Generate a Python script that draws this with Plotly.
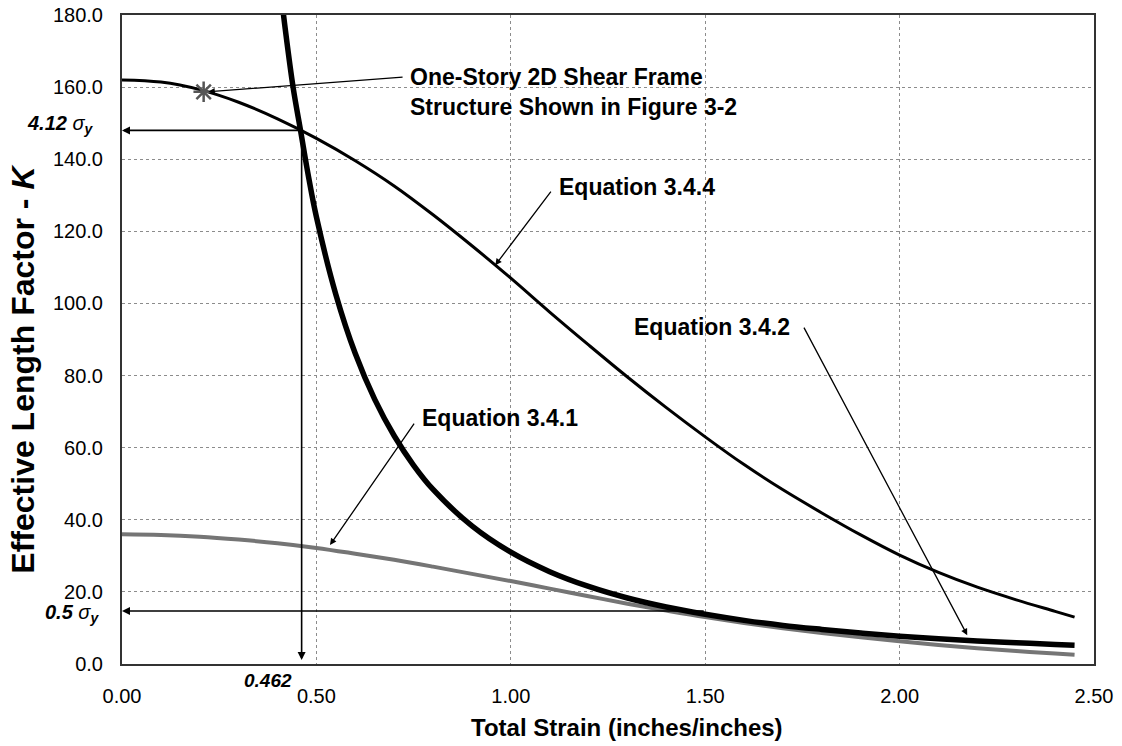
import plotly.graph_objects as go

# Effective length factor K versus total strain for three design equations
strain_344 = [0.0, 0.1, 0.2, 0.3, 0.4, 0.5, 0.6, 0.7, 0.8, 0.9, 1.0, 1.1, 1.2, 1.3,
              1.4, 1.5, 1.6, 1.7, 1.8, 1.9, 2.0, 2.1, 2.2, 2.3, 2.4, 2.45]
k_344 = [162.0, 161.4, 159.3, 155.8, 151.2, 145.8, 139.6, 132.6, 124.6, 116.0, 107.0,
         97.6, 88.5, 79.6, 71.1, 63.0, 55.3, 48.3, 41.9, 35.8, 30.2, 25.4, 21.3, 17.8,
         14.6, 13.0]

strain_342 = [0.41, 0.42, 0.44, 0.46, 0.48, 0.50, 0.55, 0.60, 0.65, 0.70, 0.75, 0.80,
              0.90, 1.00, 1.10, 1.20, 1.30, 1.40, 1.50, 1.60, 1.70, 1.80, 1.90, 2.00,
              2.10, 2.20, 2.30, 2.40, 2.45]
k_342 = [185.0, 176.0, 160.0, 147.5, 135.0, 124.0, 102.5, 86.1, 73.4, 63.3, 55.1, 48.4,
         38.3, 31.0, 25.6, 21.5, 18.3, 15.8, 13.8, 12.1, 10.7, 9.6, 8.6, 7.7, 7.0, 6.4,
         5.9, 5.4, 5.2]

strain_341 = [0.0, 0.1, 0.2, 0.3, 0.4, 0.5, 0.6, 0.7, 0.8, 0.9, 1.0, 1.1, 1.2, 1.3,
              1.4, 1.5, 1.6, 1.7, 1.8, 1.9, 2.0, 2.1, 2.2, 2.3, 2.4, 2.45]
k_341 = [36.0, 35.8, 35.3, 34.5, 33.5, 32.2, 30.6, 28.9, 27.0, 25.0, 23.0, 20.9, 18.8,
         16.7, 14.8, 13.0, 11.4, 9.9, 8.6, 7.4, 6.3, 5.3, 4.4, 3.6, 2.9, 2.6]

# One-story frame point and the guide lines
frame_strain = [0.21]
frame_k = [158.7]
strain_at_yield = 0.462
k_at_yield = 148.0
k_half_sigma = 14.7
half_sigma_strain_end = 1.5

x_ticks = [0.0, 0.5, 1.0, 1.5, 2.0, 2.5]
y_ticks = [0, 20, 40, 60, 80, 100, 120, 140, 160, 180]

FONT = "Liberation Sans, Arial, sans-serif"

fig = go.Figure()

fig.add_trace(go.Scatter(x=strain_341, y=k_341, mode="lines", line_shape="spline",
                         line=dict(color="#757575", width=4), showlegend=False))
fig.add_trace(go.Scatter(x=strain_344, y=k_344, mode="lines", line_shape="spline",
                         line=dict(color="black", width=3), showlegend=False))
fig.add_trace(go.Scatter(x=strain_342, y=k_342, mode="lines", line_shape="spline",
                         line=dict(color="black", width=5.5), showlegend=False))
fig.add_trace(go.Scatter(x=frame_strain, y=frame_k, mode="markers",
                         marker=dict(symbol="asterisk-open", size=17, color="#555555",
                                     line=dict(color="#555555", width=2.5)),
                         showlegend=False))

def arrow(x_tip, y_tip, x_tail, y_tail, width=1.6, size=1.0):
    fig.add_annotation(x=x_tip, y=y_tip, ax=x_tail, ay=y_tail, xref="x", yref="y",
                       axref="x", ayref="y", text="", showarrow=True, arrowhead=2,
                       arrowsize=size, arrowwidth=width, arrowcolor="black")

# Guide lines through the yield point and the 0.5 sigma_y level
arrow(0.0, k_at_yield, strain_at_yield, k_at_yield)
arrow(strain_at_yield, 1.1, strain_at_yield, k_at_yield)
arrow(0.0, k_half_sigma, half_sigma_strain_end, k_half_sigma)

# Callout arrows
arrow(frame_strain[0] + 0.012, frame_k[0], 0.7255, 162.8, width=1.3)
arrow(0.96, 110.6, 1.106, 131.4, width=1.3)
arrow(0.535, 33.0, 0.754, 67.1, width=1.3)
arrow(2.174, 8.0, 1.752, 93.7, width=1.3)

def label(x, y, text, xanchor="left", xref="x", yref="y", size=23):
    fig.add_annotation(x=x, y=y, xref=xref, yref=yref, text=text, showarrow=False,
                       xanchor=xanchor, yanchor="middle", align="left",
                       font=dict(family=FONT, size=size, color="black"))

label(0.736, 158.6, "<b>One-Story 2D Shear Frame<br>Structure Shown in Figure 3-2</b>")
label(1.119, 132.3, "<b>Equation 3.4.4</b>")
label(0.767, 68.2, "<b>Equation 3.4.1</b>")
label(1.724, 93.5, "<b>Equation 3.4.2</b>", xanchor="right")

label(-0.027, 149.5, "<b><i>4.12 </i></b><i>σ</i><b><i><sub>y</sub></i></b>",
      xanchor="right", xref="paper", size=20)
label(-0.022, 14.0, "<b><i>0.5 </i></b><i>σ</i><b><i><sub>y</sub></i></b>",
      xanchor="right", xref="paper", size=20)
fig.add_annotation(x=0.443, y=-0.026, xref="x", yref="paper", text="<b><i>0.462</i></b>",
                   showarrow=False, xanchor="right", yanchor="middle",
                   font=dict(family=FONT, size=19, color="black"))

# Axis titles placed as paper annotations
fig.add_annotation(x=0.5195, y=-0.098, xref="paper", yref="paper",
                   text="<b>Total Strain (inches/inches)</b>", showarrow=False,
                   xanchor="center", yanchor="middle",
                   font=dict(family=FONT, size=24, color="black"))
fig.add_annotation(x=-0.1019, y=0.455, xref="paper", yref="paper",
                   text="<b>Effective Length Factor - <i>K</i></b>", showarrow=False,
                   textangle=-90, xanchor="center", yanchor="middle",
                   font=dict(family=FONT, size=32, color="black"))

grid = dict(showgrid=True, gridcolor="#8c8c8c", griddash="dot", gridwidth=1,
            showline=True, linecolor="#333333", linewidth=2, mirror=True,
            zeroline=False, ticks="", automargin=False,
            tickfont=dict(family=FONT, size=20, color="black"))

fig.update_xaxes(range=[0, 2.5], tickvals=x_ticks, tickformat=".2f",
                 ticklabelstandoff=13, **grid)
fig.update_yaxes(range=[0, 180], tickvals=y_ticks, tickformat=".1f",
                 ticklabelstandoff=13, **grid)

fig.update_layout(width=1122, height=746, margin=dict(l=122, r=28, t=15, b=82),
                  plot_bgcolor="white", paper_bgcolor="white",
                  font=dict(family=FONT, color="black"))

fig.write_html("out.html")
